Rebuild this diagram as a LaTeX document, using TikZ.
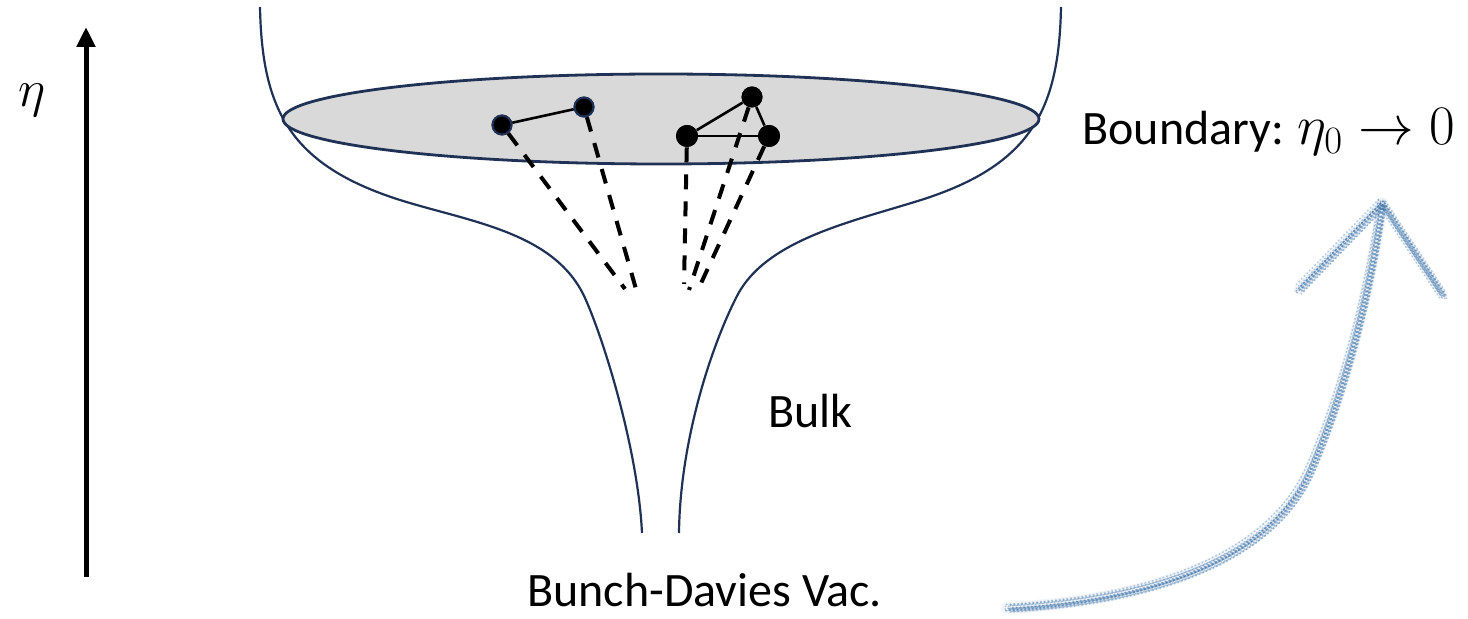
\documentclass[tikz,border=0pt]{standalone}
\usepackage{fontspec}
\setmainfont{Carlito}
\usetikzlibrary{arrows.meta, shapes.geometric}
\definecolor{navy}{RGB}{31,50,85}
\definecolor{ellgray}{RGB}{217,217,217}
\definecolor{pencil}{RGB}{55,110,165}
\begin{document}
\begin{tikzpicture}[x=0.5pt,y=-0.5pt,
 funnel/.style={draw=navy, line width=1.1pt},
 dot/.style={circle, fill=black, inner sep=0pt, minimum size=10.5pt},
 dotblue/.style={dot, draw=navy, line width=1pt, minimum size=9.5pt},
 link/.style={line width=1.3pt},
 ray/.style={line width=2pt, dash pattern=on 7.5pt off 6pt},
 lab/.style={font=\fontsize{24}{28}\selectfont, inner sep=0pt},
 pencilstroke/.style={draw=pencil, line cap=round, line join=round}]
\useasboundingbox (0,0) rectangle (1468,619);
% time arrow
\coordinate (ab) at (86,577);
\coordinate (at) at (86,27);
\draw[line width=2.5pt, -{Triangle[length=10pt,width=9pt]}] (ab) -- (at);
\node[font=\fontsize{24}{28}\selectfont, inner sep=0pt, scale=1.05] (eta) at (32,100) {$\eta$};
% funnel
\draw[funnel] (260,7) .. controls (262,110) and (290,165) .. (400,200)
  .. controls (470,222) and (555,232) .. (585,298)
  .. controls (604,340) and (638,450) .. (642,533);
\draw[funnel] (1061,7) .. controls (1059,110) and (1031,165) .. (921,200)
  .. controls (851,222) and (764,240) .. (736,298)
  .. controls (712,345) and (680,440) .. (679,533);
% boundary slice
\node[ellipse, draw=navy, fill=ellgray, line width=1.4pt, inner sep=0pt, minimum width=378pt, minimum height=45pt] (bdry) at (661,119) {};
% points on boundary
\node[dotblue] (a) at (502,125) {};
\node[dotblue] (b) at (584,107) {};
\node[dot, minimum size=11pt] (c) at (687,136) {};
\node[dot] (d) at (752,97) {};
\node[dot, minimum size=11pt] (e) at (769,136) {};
% bulk end points
\coordinate (ea) at (625,289);
\coordinate (eb) at (636,289);
\coordinate (ec) at (684,284);
\coordinate (ed) at (689,290);
\coordinate (ee) at (697,292);
\draw[ray] (a) -- (ea);
\draw[ray] (b) -- (eb);
\draw[ray] (c) -- (ec);
\draw[ray] (d) -- (ed);
\draw[ray] (e) -- (ee);
\draw[link] (a) -- (b);
\draw[link] (c) -- (d);
\draw[link] (c) -- (e);
\draw[link] (d) -- (e);
\node[dotblue] at (a) {};
\node[dotblue] at (b) {};
\node[dot, minimum size=11pt] at (c) {};
\node[dot] at (d) {};
\node[dot, minimum size=11pt] at (e) {};
% labels
\node[lab, anchor=base west] (bd) at (1082,145) {Boundary:};
\coordinate (limpos) at (1297,145);
\node[lab, anchor=base west, scale=1.12] (lim) at (limpos) {$\eta_0\to 0$};
\node[lab, anchor=base west] (bulk) at (768,428) {Bulk};
\node[lab, anchor=base west] (bdv) at (527,607) {Bunch-Davies Vac.};
% pencil arrow
\coordinate (ps) at (1007,608);
\coordinate (pt) at (1382,203);
\coordinate (pl) at (1298,290);
\coordinate (pr) at (1443,295);
\pgfmathsetseed{11}
\draw[pencilstroke, opacity=0.07, line width=6pt] (ps) .. controls (1150,600) and (1270,560) .. (1310,470) .. controls (1345,390) and (1370,290) .. (pt);
\draw[pencilstroke, opacity=0.07, line width=4.5pt] (pl) -- (pt) -- (pr);
\foreach \k in {1,...,16}{
\pgfmathsetmacro{\dx}{4.5*rand}
\pgfmathsetmacro{\dy}{4.5*rand}
\pgfmathsetmacro{\ph}{1.5*abs(rand)}
\begin{scope}[shift={(\dx,\dy)}]
\draw[pencilstroke, opacity=0.35, line width=0.8pt, dash pattern=on 0.4pt off 1.5pt, dash phase=\ph pt] (1007,608) .. controls (1150,600) and (1270,560) .. (1310,470) .. controls (1345,390) and (1370,290) .. (1382,203);
\draw[pencilstroke, opacity=0.35, line width=0.8pt, dash pattern=on 0.4pt off 1.5pt, dash phase=\ph pt] (1298,290) -- (1382,203) -- (1443,295);
\end{scope}
}
\end{tikzpicture}
\end{document}
